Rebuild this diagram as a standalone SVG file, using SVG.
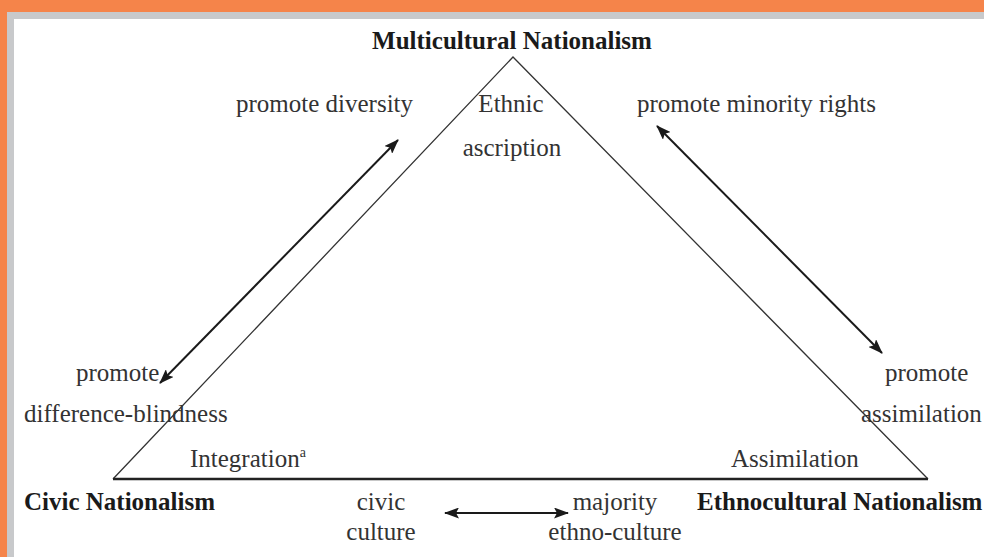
<svg xmlns="http://www.w3.org/2000/svg" width="984" height="557" viewBox="0 0 984 557">
  <style>
    text { font-family: "Liberation Serif", "Times New Roman", serif; font-size: 25px; fill: #333; }
    .b { font-weight: bold; fill: #1a1a1a; }
    .side { fill: none; stroke: #333; stroke-width: 1.3; }
    .base { fill: none; stroke: #222; stroke-width: 2.6; }
    .arr { fill: none; stroke: #1a1a1a; stroke-width: 2; marker-start: url(#ah); marker-end: url(#ah); }
  </style>
  <defs>
    <marker id="ah" viewBox="0 0 15 11" refX="14" refY="5.5" markerWidth="15" markerHeight="11" markerUnits="userSpaceOnUse" orient="auto-start-reverse">
      <path d="M0,0 L15,5.5 L0,11 L3,5.5 Z" fill="#1a1a1a"/>
    </marker>
  </defs>
  <rect x="0" y="0" width="984" height="557" fill="#f5844a"/>
  <rect x="7" y="12" width="977" height="545" fill="#c8c9cb"/>
  <rect x="14" y="19" width="970" height="538" fill="#ffffff"/>

  <g id="triangle">
    <path class="side" d="M113,479 L513,57 L928,479"/>
    <path class="base" d="M113,479 L928,479"/>
  </g>

  <g id="connectors">
    <path class="arr" d="M160,383 L398,140"/>
    <path class="arr" d="M657,126 L882,353"/>
    <path class="arr" d="M445,513 L568,513"/>
  </g>

  <g id="multicultural">
    <text class="b" x="512" y="49" text-anchor="middle">Multicultural Nationalism</text>
    <text x="511" y="112" text-anchor="middle">Ethnic</text>
    <text x="512" y="156" text-anchor="middle">ascription</text>
  </g>
  <g id="civic">
    <text class="b" x="24" y="510">Civic Nationalism</text>
    <text x="190" y="467">Integration<tspan font-size="14" dy="-10">a</tspan></text>
  </g>
  <g id="ethnocultural">
    <text class="b" x="697" y="510">Ethnocultural Nationalism</text>
    <text x="731" y="467">Assimilation</text>
  </g>
  <g id="label-diversity">
    <text x="236" y="112">promote diversity</text>
  </g>
  <g id="label-minority">
    <text x="637" y="112">promote minority rights</text>
  </g>
  <g id="label-blindness">
    <text x="76" y="381">promote</text>
    <text x="24" y="422">difference-blindness</text>
  </g>
  <g id="label-assimilation">
    <text x="885" y="381">promote</text>
    <text x="861" y="422">assimilation</text>
  </g>
  <g id="label-civic-culture">
    <text x="381" y="510" text-anchor="middle">civic</text>
    <text x="381" y="540" text-anchor="middle">culture</text>
  </g>
  <g id="label-ethno-culture">
    <text x="615" y="510" text-anchor="middle">majority</text>
    <text x="615" y="540" text-anchor="middle">ethno-culture</text>
  </g>
</svg>
